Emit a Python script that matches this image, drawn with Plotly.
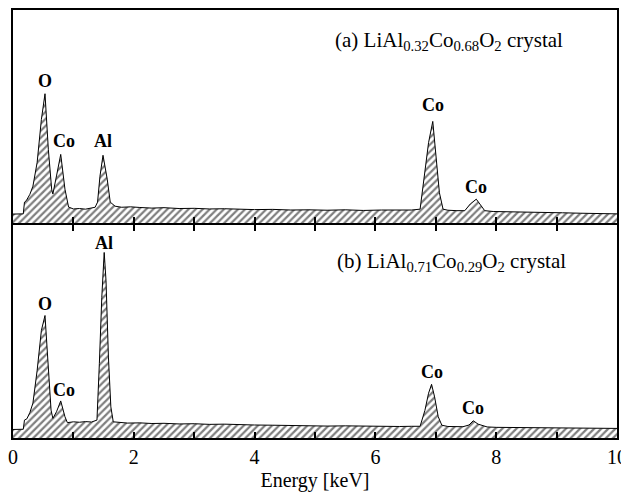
import plotly.graph_objects as go

# ---------------- data ----------------
energy_a = [0.00, 0.08, 0.17, 0.19, 0.22, 0.28, 0.33, 0.40, 0.47, 0.53, 0.585, 0.64, 0.66,
            0.72, 0.79, 0.86, 0.92, 1.00, 1.10, 1.20, 1.30, 1.36, 1.40, 1.44, 1.49, 1.56,
            1.61, 1.69, 1.80, 1.95, 2.10, 2.30, 2.50, 2.75, 3.00, 3.25, 3.50, 3.75, 4.00,
            4.30, 4.60, 4.90, 5.20, 5.50, 5.80, 6.10, 6.40, 6.60, 6.74, 6.82, 6.88, 6.95,
            7.00, 7.06, 7.12, 7.20, 7.35, 7.48, 7.57, 7.67, 7.73, 7.81, 7.95, 8.20, 8.50,
            8.80, 9.10, 9.40, 9.70, 10.00]
counts_a = [4.2, 4.2, 4.3, 9.8, 10.5, 13.5, 17.3, 28.5, 48.6, 60.7, 34.6, 15.9, 13.6,
            22.1, 32.2, 15.9, 7.5, 6.6, 6.8, 6.5, 6.9, 7.4, 9.8, 22.0, 31.8, 20.6,
            9.8, 7.9, 7.4, 7.6, 7.3, 7.0, 7.2, 6.8, 6.9, 6.6, 6.7, 6.4, 6.3,
            6.4, 6.1, 6.2, 6.0, 6.2, 5.9, 6.1, 5.9, 6.1, 6.5, 23.8, 37.7, 47.7,
            33.0, 14.2, 6.5, 6.0, 5.8, 5.8, 8.9, 11.2, 8.9, 5.8, 5.4, 5.2, 5.1,
            4.9, 4.8, 4.6, 4.5, 4.3]

energy_b = [0.00, 0.08, 0.17, 0.19, 0.23, 0.28, 0.33, 0.40, 0.47, 0.53, 0.585, 0.63, 0.66,
            0.72, 0.79, 0.86, 0.90, 1.00, 1.10, 1.20, 1.30, 1.39, 1.43, 1.47, 1.51, 1.54,
            1.58, 1.62, 1.66, 1.75, 1.90, 2.10, 2.30, 2.50, 2.75, 3.00, 3.25, 3.50, 3.75,
            4.00, 4.30, 4.60, 4.90, 5.20, 5.50, 5.80, 6.10, 6.40, 6.60, 6.74, 6.82, 6.88,
            6.93, 6.98, 7.04, 7.10, 7.20, 7.35, 7.45, 7.55, 7.62, 7.70, 7.85, 8.00, 8.30,
            8.60, 8.90, 9.20, 9.50, 9.80, 10.00]
counts_b = [4.0, 4.0, 4.1, 8.4, 9.0, 12.0, 16.4, 31.8, 50.5, 57.5, 31.8, 13.1, 9.2,
            12.3, 17.4, 10.0, 7.2, 7.6, 7.4, 7.7, 7.5, 8.4, 35.0, 66.0, 87.1, 73.8,
            38.0, 14.6, 7.6, 7.3, 7.0, 7.1, 6.8, 6.9, 6.6, 6.7, 6.4, 6.5, 6.2,
            6.1, 6.0, 5.8, 5.9, 5.6, 5.7, 5.5, 5.6, 5.4, 5.5, 5.5, 13.0, 21.0,
            25.2, 19.3, 10.0, 6.0, 5.4, 5.3, 5.3, 6.1, 8.1, 6.5, 5.2, 5.0, 4.9,
            4.8, 4.7, 4.6, 4.6, 4.5, 4.5]

peaks_a_energy = [0.53, 0.79, 1.49, 6.95, 7.67]
peaks_a_height = [60.7, 32.2, 31.8, 47.7, 11.2]
peaks_a_label = ["O", "Co", "Al", "Co", "Co"]

peaks_b_energy = [0.53, 0.79, 1.51, 6.93, 7.62]
peaks_b_height = [57.5, 17.4, 87.1, 25.2, 8.1]
peaks_b_label = ["O", "Co", "Al", "Co", "Co"]

title_a = "(a) LiAl<sub>0.32</sub>Co<sub>0.68</sub>O<sub>2</sub> crystal"
title_b = "(b) LiAl<sub>0.71</sub>Co<sub>0.29</sub>O<sub>2</sub> crystal"

tick_vals = [0, 1, 2, 3, 4, 5, 6, 7, 8, 9, 10]
tick_text = ["0", "", "2", "", "4", "", "6", "", "8", "", "10"]
x_title = "Energy [keV]"

# ---------------- figure ----------------
FONT = "Liberation Serif"
LW = 2
GAP = 0.0023  # half-gap so the two panels' axis lines coincide at the divider
fig = go.Figure()

hatch = dict(shape="/", fgcolor="black", bgcolor="white", size=5, solidity=0.45)

fig.add_trace(go.Scatter(x=energy_a, y=counts_a, mode="lines", fill="tozeroy",
                         line=dict(color="black", width=1), fillcolor="white",
                         fillpattern=hatch, xaxis="x", yaxis="y", showlegend=False))
fig.add_trace(go.Scatter(x=energy_b, y=counts_b, mode="lines", fill="tozeroy",
                         line=dict(color="black", width=1), fillcolor="white",
                         fillpattern=hatch, xaxis="x2", yaxis="y2", showlegend=False))

axis_common = dict(range=[0, 10], showgrid=False, zeroline=False, showline=True,
                   linecolor="black", linewidth=LW, ticks="inside", ticklen=6,
                   tickwidth=1.5, tickcolor="black", tickvals=tick_vals,
                   automargin=False)
yaxis_common = dict(range=[0, 100], showgrid=False, zeroline=False, showline=True,
                    linecolor="black", linewidth=LW, mirror=True,
                    showticklabels=False, ticks="", automargin=False)

# page body has an 8px margin, so the figure is sized/placed to compensate
fig.update_layout(
    width=621, height=484,
    margin=dict(l=5, r=12, t=2, b=54, autoexpand=False),
    paper_bgcolor="white", plot_bgcolor="white",
    font=dict(family=FONT, color="black"),
    xaxis=dict(**axis_common, domain=[0, 1], anchor="y", mirror=True,
               showticklabels=False),
    yaxis=dict(**yaxis_common, domain=[0.5 + GAP, 1]),
    xaxis2=dict(**axis_common, domain=[0, 1], anchor="y2", mirror="ticks",
                ticktext=tick_text, tickfont=dict(size=20, family=FONT),
                title=dict(text=x_title, font=dict(size=20, family=FONT), standoff=18)),
    yaxis2=dict(**yaxis_common, domain=[0, 0.5 - GAP]),
)

shift_a = [13, 13, 14, 16, 12]
dx_a = [0, 3, 0, 0, 0]
for e, h, t, s, d in zip(peaks_a_energy, peaks_a_height, peaks_a_label, shift_a, dx_a):
    fig.add_annotation(x=e, y=h, xref="x", yref="y", text="<b>%s</b>" % t,
                       showarrow=False, yshift=s, xshift=d, yanchor="middle",
                       font=dict(size=18, family=FONT))
shift_b = [12, 11, 9, 12, 13]
dx_b = [0, 3, 0, 0, 0]
for e, h, t, s, d in zip(peaks_b_energy, peaks_b_height, peaks_b_label, shift_b, dx_b):
    fig.add_annotation(x=e, y=h, xref="x2", yref="y2", text="<b>%s</b>" % t,
                       showarrow=False, yshift=s, xshift=d, yanchor="middle",
                       font=dict(size=18, family=FONT))

fig.add_annotation(x=5.30, y=85.6, xref="x", yref="y", text=title_a, showarrow=False,
                   xanchor="left", yanchor="middle", font=dict(size=21, family=FONT))
fig.add_annotation(x=5.33, y=82.7, xref="x2", yref="y2", text=title_b, showarrow=False,
                   xanchor="left", yanchor="middle", font=dict(size=21, family=FONT))

fig.write_html("out.html")
